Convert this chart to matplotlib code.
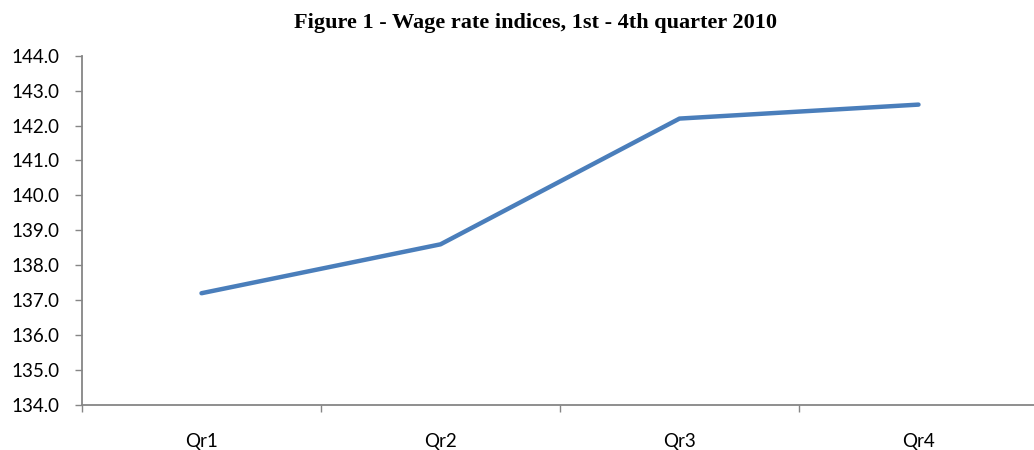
import matplotlib
matplotlib.use("Agg")
import matplotlib.pyplot as plt

categories = ["Qr1", "Qr2", "Qr3", "Qr4"]
values = [137.2, 138.6, 142.2, 142.6]
yticks = [134.0, 135.0, 136.0, 137.0, 138.0, 139.0, 140.0, 141.0, 142.0, 143.0, 144.0]
title = "Figure 1 - Wage rate indices, 1st - 4th quarter 2010"

W, H = 1034, 450
fig = plt.figure(figsize=(W / 100, H / 100), dpi=100)
ax = fig.add_axes([82 / W, (H - 405) / H, (1038 - 82) / W, (405 - 55.7) / H])

x = list(range(len(categories)))
ax.plot(x, values, color="#4A7EBB", linewidth=3.2, solid_capstyle="round", solid_joinstyle="round")

ax.set_xlim(-0.5, len(categories) - 0.5)
ax.set_ylim(yticks[0], yticks[-1])
ax.set_yticks(yticks)
ax.set_yticklabels([f"{v:.1f}" for v in yticks])

ax.set_xticks([i - 0.5 for i in range(len(categories) + 1)])
ax.set_xticklabels([])
ax.set_xticks(x, minor=True)
ax.set_xticklabels(categories, minor=True)

for s in ["top", "right"]:
    ax.spines[s].set_visible(False)
for s in ["left", "bottom"]:
    ax.spines[s].set_color("#868686")
    ax.spines[s].set_linewidth(1.3)

font = "Lato"
ax.tick_params(axis="y", which="major", direction="out", length=5, width=1.0, color="#868686",
               pad=11, labelsize=13.5, labelcolor="black")
ax.tick_params(axis="x", which="major", direction="out", length=5, width=1.0, color="#868686")
ax.tick_params(axis="x", which="minor", length=0, pad=20, labelsize=13.5, labelcolor="black")
for lab in ax.get_yticklabels() + ax.get_xticklabels(minor=True):
    lab.set_fontfamily(font)

fig.text(535 / W, 1 - 23 / H, title, ha="center", va="center", fontsize=16,
         fontweight="bold", family="Liberation Serif")

fig.savefig("out.png", dpi=100)
